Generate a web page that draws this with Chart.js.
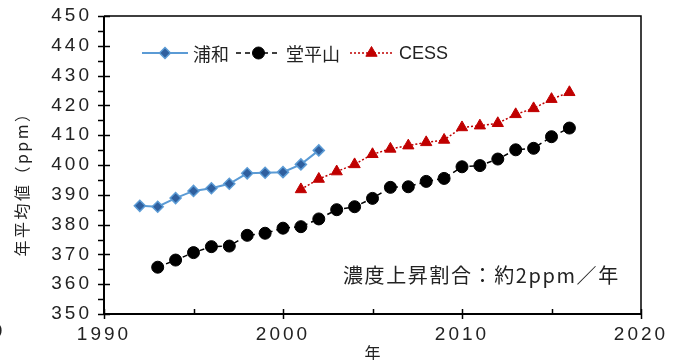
<!DOCTYPE html>
<html>
<head>
<meta charset="utf-8">
<script src="https://cdn.jsdelivr.net/npm/chart.js@4.4.1/dist/chart.umd.min.js"></script>
<style>
  html, body { margin: 0; padding: 0; background: #fff; }
  #wrap { width: 677px; height: 360px; position: relative; }
</style>
</head>
<body>
<div id="wrap"><canvas id="c" width="677" height="360"></canvas></div>
<script>
// 年平均値 (ppm)
const urawaYears = [1992, 1993, 1994, 1995, 1996, 1997, 1998, 1999, 2000, 2001, 2002];
const urawaValues = [386.3, 386.0, 388.9, 391.3, 392.2, 393.7, 397.2, 397.4, 397.6, 400.2, 404.9];

const dohiraYears = [1993, 1994, 1995, 1996, 1997, 1998, 1999, 2000, 2001, 2002, 2003, 2004,
                     2005, 2006, 2007, 2008, 2009, 2010, 2011, 2012, 2013, 2014, 2015, 2016];
const dohiraValues = [365.7, 368.1, 370.6, 372.6, 372.8, 376.4, 377.1, 378.8, 379.3, 381.9, 385.0, 386.0,
                      388.8, 392.5, 392.7, 394.5, 395.5, 399.4, 399.8, 402.0, 405.1, 405.6, 409.5, 412.4];

const cessYears = [2001, 2002, 2003, 2004, 2005, 2006, 2007, 2008, 2009, 2010, 2011, 2012, 2013, 2014, 2015, 2016];
const cessValues = [391.8, 395.3, 397.8, 400.2, 403.6, 405.4, 406.5, 407.6, 408.4, 412.6, 413.2, 414.0, 417.0, 419.0, 422.1, 424.4];

const seriesNames = ['浦和', '堂平山', 'CESS'];
const yTitle = '年平均値（ppm）';
const xTitle = '年';
const noteText = '濃度上昇割合：約2ppm／年';

const xMin = 1990, xMax = 2020, xStep = 10;
const yMin = 350, yMax = 450, yStep = 10;

const toPoints = (xs, ys) => xs.map((x, i) => ({ x: x, y: ys[i] }));

const NUM_FONT = '"Liberation Sans", "DejaVu Sans", sans-serif';
const JP_FONT = '"Noto Sans CJK JP", sans-serif';

const BLUE_LINE = '#5b9bd5';
const BLUE_MARK = '#2f5f9e';
const RED = '#c00000';
const TEXT = '#222';

// frame, axes, tick marks, titles, note and legend
const decorations = {
  id: 'decorations',
  beforeDraw(chart) {
    // wider spacing for the tick numbers
    chart.ctx.letterSpacing = '3px';
  },
  afterDraw(chart) {
    const ctx = chart.ctx;
    const a = chart.chartArea;
    const xs = chart.scales.x, ys = chart.scales.y;
    ctx.save();
    ctx.letterSpacing = '0px';
    ctx.strokeStyle = '#000';

    // top and right frame
    ctx.lineWidth = 1.5;
    ctx.beginPath();
    ctx.moveTo(a.left, a.top);
    ctx.lineTo(a.right, a.top);
    ctx.lineTo(a.right, a.bottom);
    ctx.stroke();

    // y axis: major ticks cross the axis, minor ticks outside
    ctx.lineWidth = 2;
    ctx.beginPath();
    ctx.moveTo(a.left, a.top);
    ctx.lineTo(a.left, a.bottom);
    ctx.stroke();
    ctx.lineWidth = 1.5;
    for (let v = yMin; v <= yMax; v += yStep / 2) {
      const py = Math.round(ys.getPixelForValue(v)) + 0.5;
      const major = (v - yMin) % yStep === 0;
      ctx.beginPath();
      ctx.moveTo(a.left - 6, py);
      ctx.lineTo(a.left + (major ? 6 : 0), py);
      ctx.stroke();
    }

    // x axis: major ticks cross the axis, minor ticks inside
    ctx.lineWidth = 2;
    ctx.beginPath();
    ctx.moveTo(a.left, a.bottom);
    ctx.lineTo(a.right, a.bottom);
    ctx.stroke();
    ctx.lineWidth = 1.5;
    for (let v = xMin; v <= xMax; v += xStep / 2) {
      const px = Math.round(xs.getPixelForValue(v)) + 0.5;
      const major = (v - xMin) % xStep === 0;
      ctx.beginPath();
      ctx.moveTo(px, a.bottom - 5);
      ctx.lineTo(px, a.bottom + (major ? 5 : 0));
      ctx.stroke();
    }

    // axis titles
    ctx.fillStyle = TEXT;
    ctx.font = '16px ' + JP_FONT;
    ctx.textAlign = 'center';
    ctx.textBaseline = 'middle';
    ctx.save();
    ctx.translate(22, 180);
    ctx.rotate(-Math.PI / 2);
    ctx.letterSpacing = '2.5px';
    ctx.fillText(yTitle, 0, 0);
    ctx.restore();
    ctx.letterSpacing = '0px';
    ctx.fillText(xTitle, (a.left + a.right) / 2, 353);

    // clipped label at the left edge
    ctx.font = '19px ' + NUM_FONT;
    ctx.fillText('0', -3, 332);

    // note
    ctx.font = '20px ' + JP_FONT;
    ctx.textAlign = 'left';
    ctx.letterSpacing = '1.6px';
    ctx.fillText(noteText, 343, 275);
    ctx.letterSpacing = '0px';

    // legend: line sample, marker, label
    const ly = 53;
    const segs = [[142, 188], [236, 281], [350, 393]];
    const tx = [193, 286, 399];
    chart.data.datasets.forEach((ds, i) => {
      ctx.save();
      ctx.strokeStyle = ds.borderColor;
      ctx.lineWidth = ds.borderWidth;
      ctx.setLineDash(ds.borderDash || []);
      ctx.beginPath();
      ctx.moveTo(segs[i][0], ly);
      ctx.lineTo(segs[i][1], ly);
      ctx.stroke();
      ctx.restore();

      ctx.save();
      ctx.fillStyle = ds.pointBackgroundColor;
      ctx.strokeStyle = ds.pointBorderColor;
      ctx.lineWidth = ds.pointBorderWidth;
      Chart.helpers.drawPoint(ctx, {
        pointStyle: ds.pointStyle,
        radius: ds.pointRadius,
        borderWidth: ds.pointBorderWidth,
        rotation: 0
      }, (segs[i][0] + segs[i][1]) / 2, ly);
      ctx.restore();

      ctx.fillStyle = TEXT;
      ctx.font = '18px ' + (i === 2 ? NUM_FONT : JP_FONT);
      ctx.textAlign = 'left';
      ctx.textBaseline = 'middle';
      ctx.fillText(seriesNames[i], tx[i], ly + 1);
    });
    ctx.restore();
  }
};

// keep the plot box fixed: labels may overhang the padding
const noLabelPadding = s => {
  s.paddingTop = 0; s.paddingBottom = 0; s.paddingLeft = 0; s.paddingRight = 0;
};

new Chart(document.getElementById('c'), {
  type: 'line',
  data: {
    datasets: [
      {
        label: seriesNames[0],
        data: toPoints(urawaYears, urawaValues),
        borderColor: BLUE_LINE,
        borderWidth: 2,
        pointStyle: 'rectRot',
        pointRadius: 5.5,
        pointBackgroundColor: BLUE_MARK,
        pointBorderColor: BLUE_LINE,
        pointBorderWidth: 1.5,
        tension: 0
      },
      {
        label: seriesNames[1],
        data: toPoints(dohiraYears, dohiraValues),
        borderColor: '#000',
        borderWidth: 1.5,
        borderDash: [5, 4],
        pointStyle: 'circle',
        pointRadius: 6,
        pointBackgroundColor: '#000',
        pointBorderColor: '#000',
        pointBorderWidth: 1,
        tension: 0
      },
      {
        label: seriesNames[2],
        data: toPoints(cessYears, cessValues),
        borderColor: RED,
        borderWidth: 1.5,
        borderDash: [2, 2],
        pointStyle: 'triangle',
        pointRadius: 6.5,
        pointBackgroundColor: RED,
        pointBorderColor: RED,
        pointBorderWidth: 1,
        tension: 0
      }
    ]
  },
  options: {
    responsive: false,
    animation: false,
    devicePixelRatio: 1,
    layout: { padding: { top: 16, right: 36, left: 0, bottom: 0 } },
    plugins: { legend: { display: false }, tooltip: { enabled: false } },
    scales: {
      x: {
        type: 'linear',
        min: xMin, max: xMax,
        grid: { display: false, drawTicks: false },
        border: { display: false },
        ticks: {
          stepSize: xStep,
          autoSkip: false,
          maxRotation: 0,
          padding: 9,
          color: TEXT,
          font: { family: NUM_FONT, size: 19 },
          callback: v => String(v)
        },
        afterFit: s => { s.height = 46; noLabelPadding(s); }
      },
      y: {
        min: yMin, max: yMax,
        grid: { display: false, drawTicks: false },
        border: { display: false },
        ticks: {
          stepSize: yStep,
          padding: 12,
          color: TEXT,
          font: { family: NUM_FONT, size: 19 },
          callback: v => String(v)
        },
        afterFit: s => { s.width = 104; noLabelPadding(s); }
      }
    }
  },
  plugins: [decorations]
});
</script>
</body>
</html>
